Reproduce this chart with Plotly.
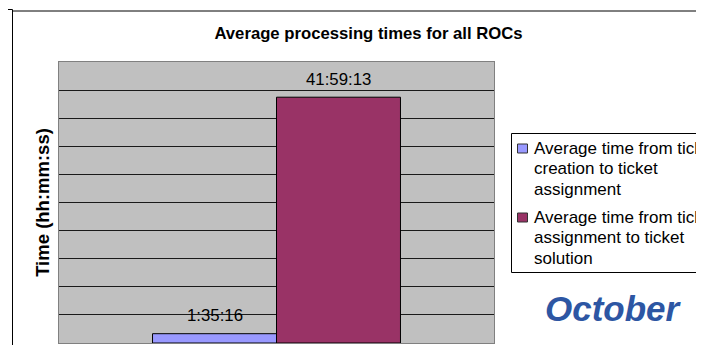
import plotly.graph_objects as go

# ---- data ----
categories = ["October"]
series_names = [
    "Average time from ticket creation to ticket assignment",
    "Average time from ticket assignment to ticket solution",
]
legend_lines = [
    ["Average time from ticket", "creation to ticket", "assignment"],
    ["Average time from ticket", "assignment to ticket", "solution"],
]
time_labels = ["1:35:16", "41:59:13"]          # hh:mm:ss
bar_colors = ["#9999FF", "#993366"]
y_max_hours = 48.0
y_step_hours = 4.8
chart_title = "Average processing times for all ROCs"
y_title = "Time (hh:mm:ss)"
month_label = "October"


def to_hours(s):
    h, m, sec = (int(v) for v in s.split(":"))
    return h + m / 60 + sec / 3600


hours = [to_hours(t) for t in time_labels]

# ---- layout geometry (page has an 8px body margin) ----
OFF = 8
W, H = 704 - OFF, 353 - 2 * OFF
PLOT_L, PLOT_R, PLOT_T, PLOT_B = 59, 494, 62, 343   # window pixels
L, R, T, B = PLOT_L - OFF, W - (PLOT_R - OFF), PLOT_T - OFF, H - (PLOT_B - OFF)
PW, PH = PLOT_R - PLOT_L, PLOT_B - PLOT_T
BARGAP = 0.43
FONT = "Arial, Liberation Sans, sans-serif"


def px2x(px):
    return (px - PLOT_L) / PW


def py2y(py):
    return (PLOT_B - py) / PH


fig = go.Figure()
for i, name in enumerate(series_names):
    fig.add_trace(go.Bar(
        x=categories, y=[hours[i]], name=name,
        marker=dict(color=bar_colors[i], line=dict(color="#000000", width=1)),
        showlegend=False, hoverinfo="skip",
    ))

annotations = []
group_w = PW * (1 - BARGAP)
n = len(series_names)
for i in range(n):
    annotations.append(dict(
        x=categories[0], y=hours[i], xref="x", yref="y",
        xshift=(i - (n - 1) / 2) * group_w / n, yshift=18,
        text=time_labels[i], showarrow=False, yanchor="middle", xanchor="center",
        font=dict(family=FONT, size=16.8, color="#000000"),
    ))

shapes = []
# outer frames
shapes.append(dict(type="line", xref="paper", yref="paper",
                   x0=px2x(-5), x1=px2x(12.5), y0=py2y(9.5), y1=py2y(9.5),
                   line=dict(color="#000000", width=1)))
shapes.append(dict(type="line", xref="paper", yref="paper",
                   x0=px2x(12.5), x1=px2x(720), y0=py2y(11), y1=py2y(11),
                   line=dict(color="#000000", width=1)))
shapes.append(dict(type="line", xref="paper", yref="paper",
                   x0=px2x(12.5), x1=px2x(12.5), y0=py2y(9.5), y1=py2y(365),
                   line=dict(color="#000000", width=1)))
# legend box
shapes.append(dict(type="rect", xref="paper", yref="paper",
                   x0=px2x(511.5), x1=px2x(730), y0=py2y(272.5), y1=py2y(133.5),
                   line=dict(color="#000000", width=1), fillcolor="#FFFFFF"))
marker_centers = [148.5, 217.5]
line_step = 20.3
for i in range(n):
    cy = marker_centers[i]
    shapes.append(dict(type="rect", xref="paper", yref="paper",
                       x0=px2x(517.5), x1=px2x(527.5), y0=py2y(cy + 4.5), y1=py2y(cy - 4.5),
                       line=dict(color="#333333", width=1), fillcolor=bar_colors[i]))
    for k, line in enumerate(legend_lines[i]):
        annotations.append(dict(
            x=px2x(532), y=py2y(cy + k * line_step), xref="paper", yref="paper",
            text=line, showarrow=False, xanchor="left", yanchor="middle",
            align="left", font=dict(family=FONT, size=17, color="#000000"),
        ))

annotations.append(dict(
    x=px2x(613), y=py2y(308), xref="paper", yref="paper",
    text=month_label, showarrow=False, xanchor="center", yanchor="middle",
    font=dict(family=FONT, size=35, color="#2D56A3", weight="bold", style="italic"),
))

fig.update_layout(
    width=W, height=H,
    margin=dict(l=L, r=R, t=T, b=B, autoexpand=False),
    paper_bgcolor="#FFFFFF", plot_bgcolor="#C0C0C0",
    barmode="group", bargap=BARGAP, bargroupgap=0,
    showlegend=False,
    title=dict(text=chart_title, x=(368.5 - OFF) / W, xref="container", xanchor="center",
               y=1 - (33.5 - OFF) / H, yref="container", yanchor="middle",
               font=dict(family=FONT, size=16.7, color="#000000", weight="bold")),
    xaxis=dict(showticklabels=False, showgrid=False, zeroline=False,
               showline=True, mirror=True, linecolor="#808080", linewidth=1,
               ticks="", fixedrange=True),
    yaxis=dict(range=[0, y_max_hours], dtick=y_step_hours, tick0=0,
               showticklabels=False, showgrid=True, gridcolor="#1A1A1A", gridwidth=1,
               zeroline=False, showline=True, mirror=True, linecolor="#808080",
               linewidth=1, ticks="", fixedrange=True,
               title=dict(text=y_title, standoff=3,
                          font=dict(family=FONT, size=18.5, color="#000000", weight="bold"))),
    annotations=annotations, shapes=shapes,
    font=dict(family=FONT),
)

fig.write_html("out.html")
